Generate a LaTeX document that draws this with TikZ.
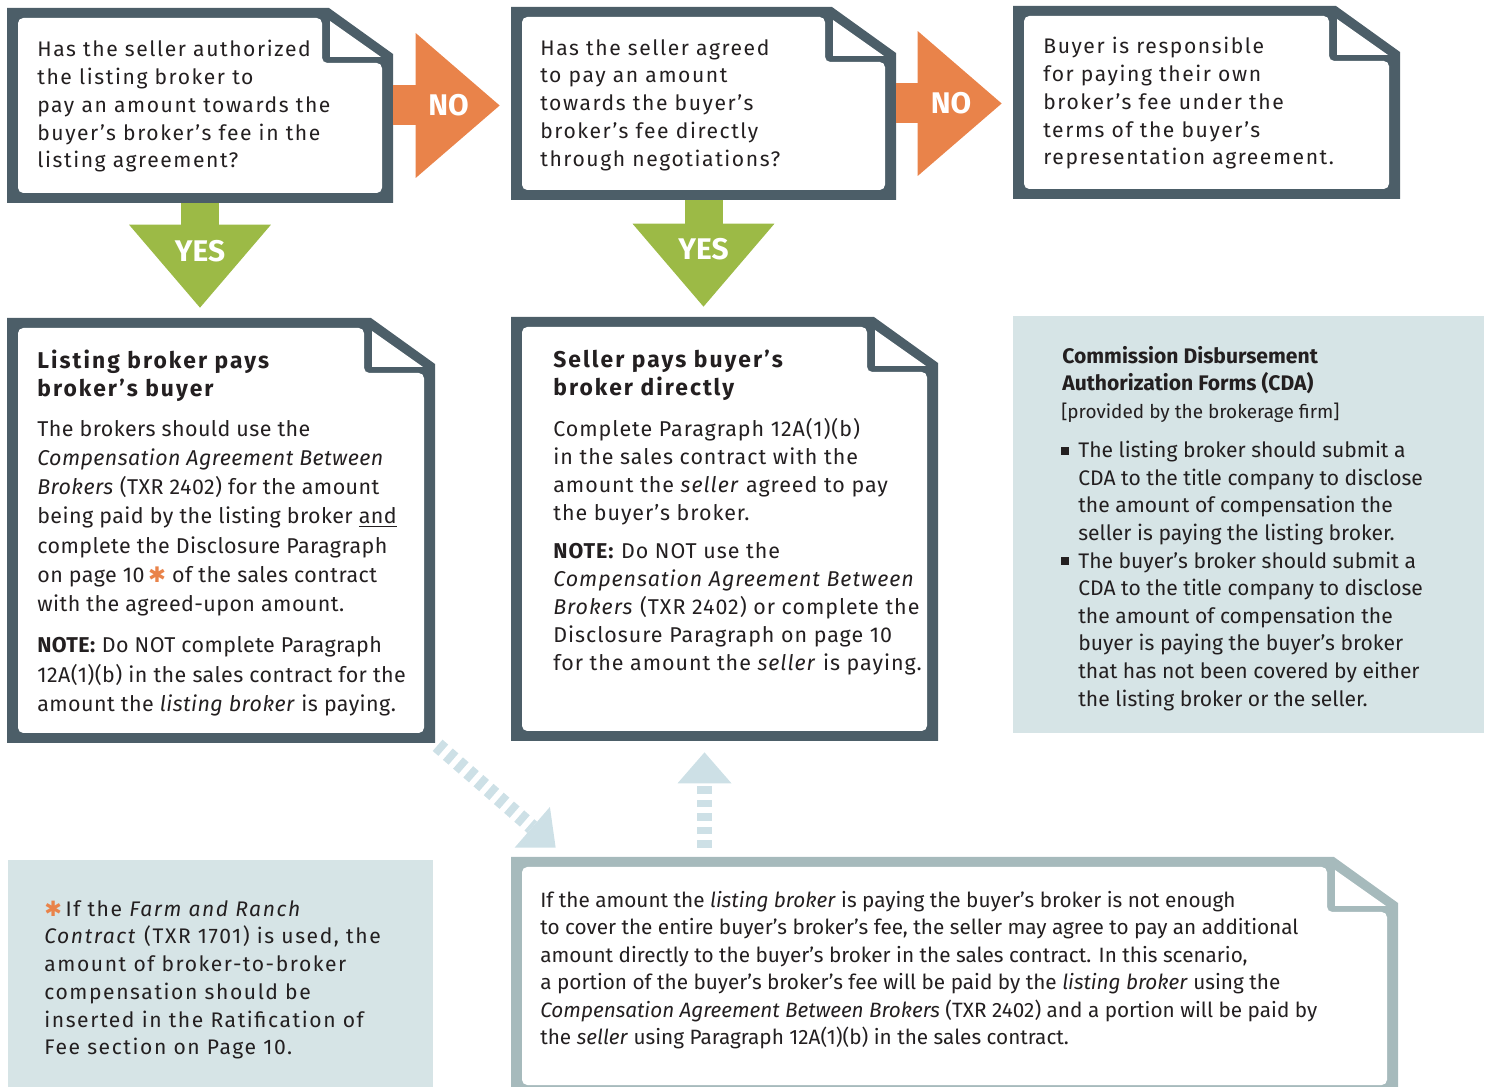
\documentclass[tikz,border=0pt]{standalone}
\usepackage{fontspec}
\setmainfont{Fira Sans}
\newfontfamily\trackfont[LetterSpace=7.5]{Fira Sans}
\newfontfamily\midfont[LetterSpace=4.5]{Fira Sans}
\newfontfamily\tightfont[LetterSpace=2]{Fira Sans}
\newfontfamily\headfont[LetterSpace=9]{Fira Sans}
\newfontfamily\symfont{DejaVu Sans}
\usetikzlibrary{arrows.meta, calc, fit}

\definecolor{slate}{RGB}{76,94,104}
\definecolor{mist}{RGB}{166,186,188}
\definecolor{panel}{RGB}{214,228,230}
\definecolor{noorange}{RGB}{233,131,74}
\definecolor{yesgreen}{RGB}{156,186,70}
\definecolor{hint}{RGB}{205,224,230}
\definecolor{ink}{RGB}{35,31,32}

\newcommand{\orast}{{\symfont\color{noorange}✱}}
\newcommand{\sqbul}{\makebox[0pt][r]{\rule[0.15em]{0.38em}{0.38em}\hspace{0.45em}}}

\begin{document}
\begin{tikzpicture}[x=0.02cm, y=-0.02cm,
  doc/.style={inner sep=0pt, path picture={
      \coordinate (nw) at (path picture bounding box.north west);
      \coordinate (ne) at (path picture bounding box.north east);
      \coordinate (se) at (path picture bounding box.south east);
      \coordinate (sw) at (path picture bounding box.south west);
      \fill[#1] (nw) -- ($(ne)+(-64,0)$) -- ($(ne)+(0,46)$) -- (se) -- (sw) -- cycle;
      \fill[white, rounded corners=3pt] ($(nw)+(11,10)$) -- ($(ne)+(-71,10)$) -- ($(ne)+(-71,55)$)
        -- ($(ne)+(-11,55)$) -- ($(se)+(-11,-10)$) -- ($(sw)+(11,-10)$) -- cycle;
      \fill[white] ($(ne)+(-63,13)$) -- ($(ne)+(-63,49)$) -- ($(ne)+(-12,49)$) -- cycle;}},
  doc/.default=slate,
  panelbox/.style={inner sep=0pt, fill=panel},
  qtext/.style={anchor=north west, inner sep=0pt, align=left, text=ink,
    font=\trackfont\fontsize{12}{15.8}\selectfont},
  head/.style={qtext, font=\headfont\bfseries\fontsize{13}{15.9}\selectfont},
  cdatext/.style={qtext, font=\rmfamily\fontsize{12}{15.7}\selectfont},
  lbl/.style={text=white, font=\bfseries\fontsize{17}{17}\selectfont},
  noarrow/.style={draw=noorange, line width=0.8cm, shorten >=0.22cm,
    -{Triangle[width=2.9cm, length=1.68cm, line width=0pt]}},
  yesarrow/.style={draw=yesgreen, line width=0.76cm, shorten >=0.2cm,
    -{Triangle[width=2.84cm, length=1.66cm, line width=0pt]}},
  hintarrow/.style={draw=hint, line width=0.3cm, dash pattern=on 0.15cm off 0.12cm,
    -{Triangle[width=1.08cm, length=0.62cm, line width=0pt]}}]
\useasboundingbox (0,0) rectangle (1489,1087);

\node[doc, fit={(7,8) (393,203)}] (q1) {};
\node[doc, fit={(511,7) (896,200)}] (q2) {};
\node[doc, fit={(1013,6) (1400,199)}] (q3) {};
\node[doc, fit={(7,318) (435,743)}] (a1) {};
\node[doc, fit={(511,317) (938,741)}] (a2) {};
\node[panelbox, fit={(1013,316) (1484,733)}] (cda) {};
\node[panelbox, fit={(8,860) (433,1095)}] (fn) {};
\node[doc=mist, fit={(511,857) (1398,1095)}] (b) {};

\node[qtext] (q1t) at (37,40) {Has the seller authorized\\the listing broker to\\pay an amount towards the\\buyer’s broker’s fee in the\\listing agreement?};
\node[qtext] (q2t) at (540,39) {Has the seller agreed\\to pay an amount\\towards the buyer’s\\broker’s fee directly\\through negotiations?};
\node[qtext] (q3t) at (1043,37) {Buyer is responsible\\for paying their own\\broker’s fee under the\\terms of the buyer’s\\representation agreement.};

\node[head] (a1h) at (37,350) {Listing broker pays\\broker’s buyer};
\node[qtext, font=\tightfont\fontsize{12.2}{16.6}\selectfont] (a1b) at (37,420) {The brokers should use the\\\textit{Compensation Agreement Between}\\\textit{Brokers} (TXR 2402) for the amount\\being paid by the listing broker \underline{and}\\complete the Disclosure Paragraph\\on page 10\,\orast\ of the sales contract\\with the agreed-upon amount.\\[7pt]\textbf{NOTE:} Do NOT complete Paragraph\\12A(1)(b) in the sales contract for the\\amount the \textit{listing broker} is paying.};

\node[head] (a2h) at (553,350) {Seller pays buyer’s\\broker directly};
\node[qtext, font=\midfont\fontsize{12.2}{15.9}\selectfont] (a2b) at (553,418) {Complete Paragraph 12A(1)(b)\\in the sales contract with the\\amount the \textit{seller} agreed to pay\\the buyer’s broker.\\[6pt]\textbf{NOTE:} Do NOT use the\\\textit{Compensation Agreement Between}\\\textit{Brokers} (TXR 2402) or complete the\\Disclosure Paragraph on page 10\\for the amount the \textit{seller} is paying.};

\node[qtext, font=\rmfamily\bfseries\fontsize{12}{15.3}\selectfont] (cdah) at (1062,346) {Commission Disbursement\\Authorization Forms (CDA)};
\node[qtext, font=\rmfamily\fontsize{10.8}{12}\selectfont] (cdas) at (1061,403) {[provided by the brokerage firm]};
\node[cdatext] (cdab) at (1078,441) {\sqbul The listing broker should submit a\\CDA to the title company to disclose\\the amount of compensation the\\seller is paying the listing broker.\\\sqbul The buyer’s broker should submit a\\CDA to the title company to disclose\\the amount of compensation the\\buyer is paying the buyer’s broker\\that has not been covered by either\\the listing broker or the seller.};

\node[qtext] (fnt) at (44,900) {\orast\,If the \textit{Farm and Ranch}\\\textit{Contract} (TXR 1701) is used, the\\amount of broker-to-broker\\compensation should be\\inserted in the Ratification of\\Fee section on Page 10.};

\node[qtext, font=\rmfamily\fontsize{11.8}{15.6}\selectfont] (bt) at (540,891) {If the amount the \textit{listing broker} is paying the buyer’s broker is not enough\\to cover the entire buyer’s broker’s fee, the seller may agree to pay an additional\\amount directly to the buyer’s broker in the sales contract. In this scenario,\\a portion of the buyer’s broker’s fee will be paid by the \textit{listing broker} using the\\\textit{Compensation Agreement Between Brokers} (TXR 2402) and a portion will be paid by\\the \textit{seller} using Paragraph 12A(1)(b) in the sales contract.};

\draw[noarrow] (q1.east) -- (q1.east -| q2.west) node[pos=0.47, lbl] {NO};
\draw[noarrow] (q2.east) -- (q2.east -| q3.west) node[pos=0.47, lbl] {NO};
\draw[yesarrow] (q1.south) -- (q1.south |- a1.north) node[pos=0.42, lbl] {YES};
\draw[yesarrow] (q2.south) -- (q2.south |- a2.north) node[pos=0.42, lbl] {YES};
\draw[hintarrow, shorten <=0.06cm] (a1.south east) -- ($(b.north west)+(45,-9)$);
\draw[hintarrow, shorten <=0.18cm, shorten >=0.22cm] ([xshift=-0.4cm]a2.south |- b.north) -- ([xshift=-0.4cm]a2.south);
\end{tikzpicture}
\end{document}
